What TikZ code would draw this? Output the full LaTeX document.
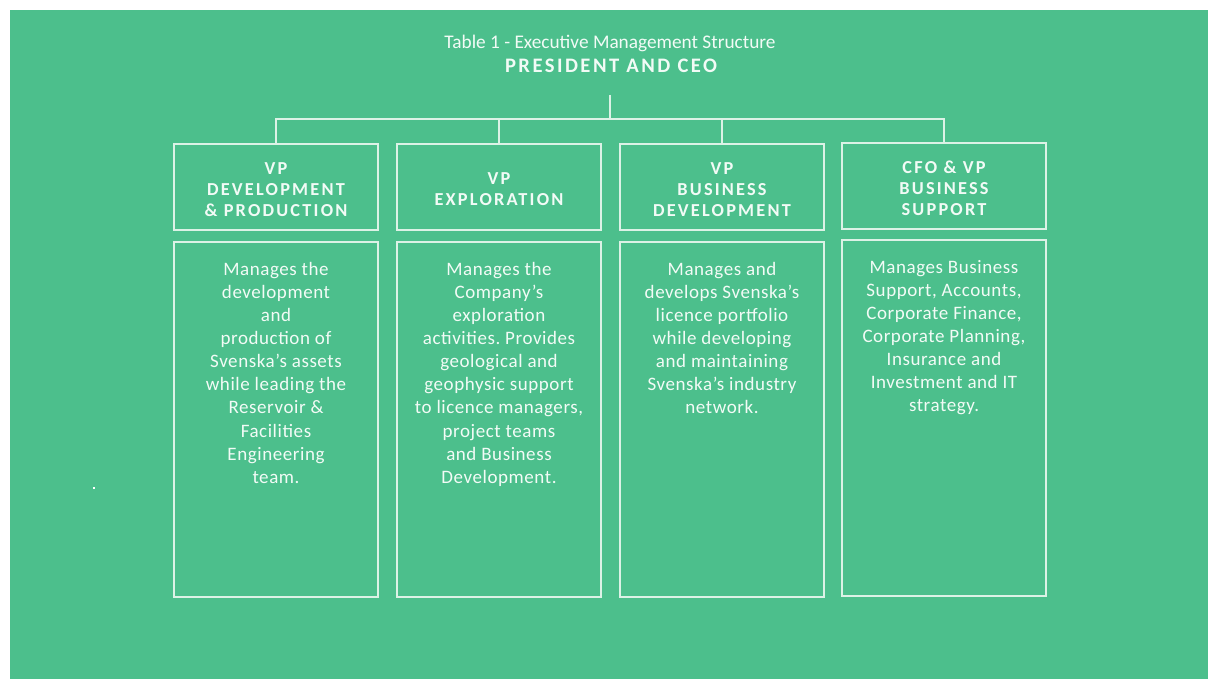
\documentclass[tikz,border=0pt]{standalone}
\usepackage{fontspec}
\setmainfont{Carlito}
\newfontfamily\headfont[LetterSpace=12]{Carlito}
\newfontfamily\bodyfont[LetterSpace=3]{Carlito}
\definecolor{bg}{RGB}{76,191,140}
\definecolor{rule}{RGB}{220,242,230}
\definecolor{ink}{RGB}{242,251,246}
\frenchspacing
\begin{document}
\begin{tikzpicture}[x=1pt,y=-1pt,
  box/.style={draw=rule, line width=2pt, minimum width=204pt, inner sep=0pt},
  headbox/.style={box, minimum height=86pt},
  headtext/.style={text=ink, align=center, inner sep=0pt, yshift=-2.5pt,
    font=\headfont\bfseries\fontsize{18.3}{21}\selectfont},
  bodybox/.style={box, minimum height=355pt},
  bodytext/.style={text=ink, font=\bodyfont\fontsize{19}{23.1}\selectfont,
    align=center, inner sep=0pt, anchor=north},
  link/.style={draw=rule, line width=2pt}]
  % page and panel
  \useasboundingbox (0,0) rectangle (1208,679);
  \fill[white] (0,0) rectangle (1208,679);
  \fill[bg] (10,10) rectangle (1208,679);
  \fill[white] (93,487) rectangle (95,489);

  % heading
  \node[text=ink, font=\fontsize{19.3}{22}\selectfont, inner sep=0pt] (title) at (610,43)
    {Table 1 - Executive Management Structure};
  \node[text=ink, font=\headfont\bfseries\fontsize{20.6}{24}\selectfont, inner sep=0pt] (ceo) at (611,66)
    {PRESIDENT AND CEO};

  % role headers
  \node[headbox] (h1) at (276,187) {};
  \node[headbox] (h2) at (499,187) {};
  \node[headbox] (h3) at (722,187.5) {};
  \node[headbox] (h4) at (944,186) {};
  \node[headtext] (ht1) at (h1) {VP\\DEVELOPMENT\\\& PRODUCTION};
  \node[headtext] (ht2) at (h2) {VP\\EXPLORATION};
  \node[headtext] (ht3) at (h3) {VP\\BUSINESS\\DEVELOPMENT};
  \node[headtext] (ht4) at (h4) {CFO \& VP\\BUSINESS\\SUPPORT};

  % description panels
  \node[bodybox] (b1) at (276,419.5) {};
  \node[bodybox] (b2) at (499,419.5) {};
  \node[bodybox] (b3) at (722,419.5) {};
  \node[bodybox] (b4) at (944,418) {};

  \node[bodytext] (t1) at (276,262) {Manages the\\development\\and\\production of\\Svenska’s assets\\while leading the\\Reservoir \&\\Facilities\\Engineering\\team.};
  \node[bodytext] (t2) at (499,262) {Manages the\\Company’s\\exploration\\activities. Provides\\geological and\\geophysic support\\to licence managers,\\project teams\\and Business\\Development.};
  \node[bodytext] (t3) at (722,262) {Manages and\\develops Svenska’s\\licence portfolio\\while developing\\and maintaining\\Svenska’s industry\\network.};
  \node[bodytext] (t4) at (944,260) {Manages Business\\Support, Accounts,\\Corporate Finance,\\Corporate Planning,\\Insurance and\\Investment and IT\\strategy.};

  % reporting lines
  \coordinate (stem) at (610,95);
  \coordinate (bus) at (610,119);
  \draw[link] (stem) -- (bus);
  \draw[link] (h1.north) -- (h1.north |- bus) -- (h4.north |- bus) -- (h4.north);
  \draw[link] (h2.north) -- (h2.north |- bus);
  \draw[link] (h3.north) -- (h3.north |- bus);
\end{tikzpicture}
\end{document}
